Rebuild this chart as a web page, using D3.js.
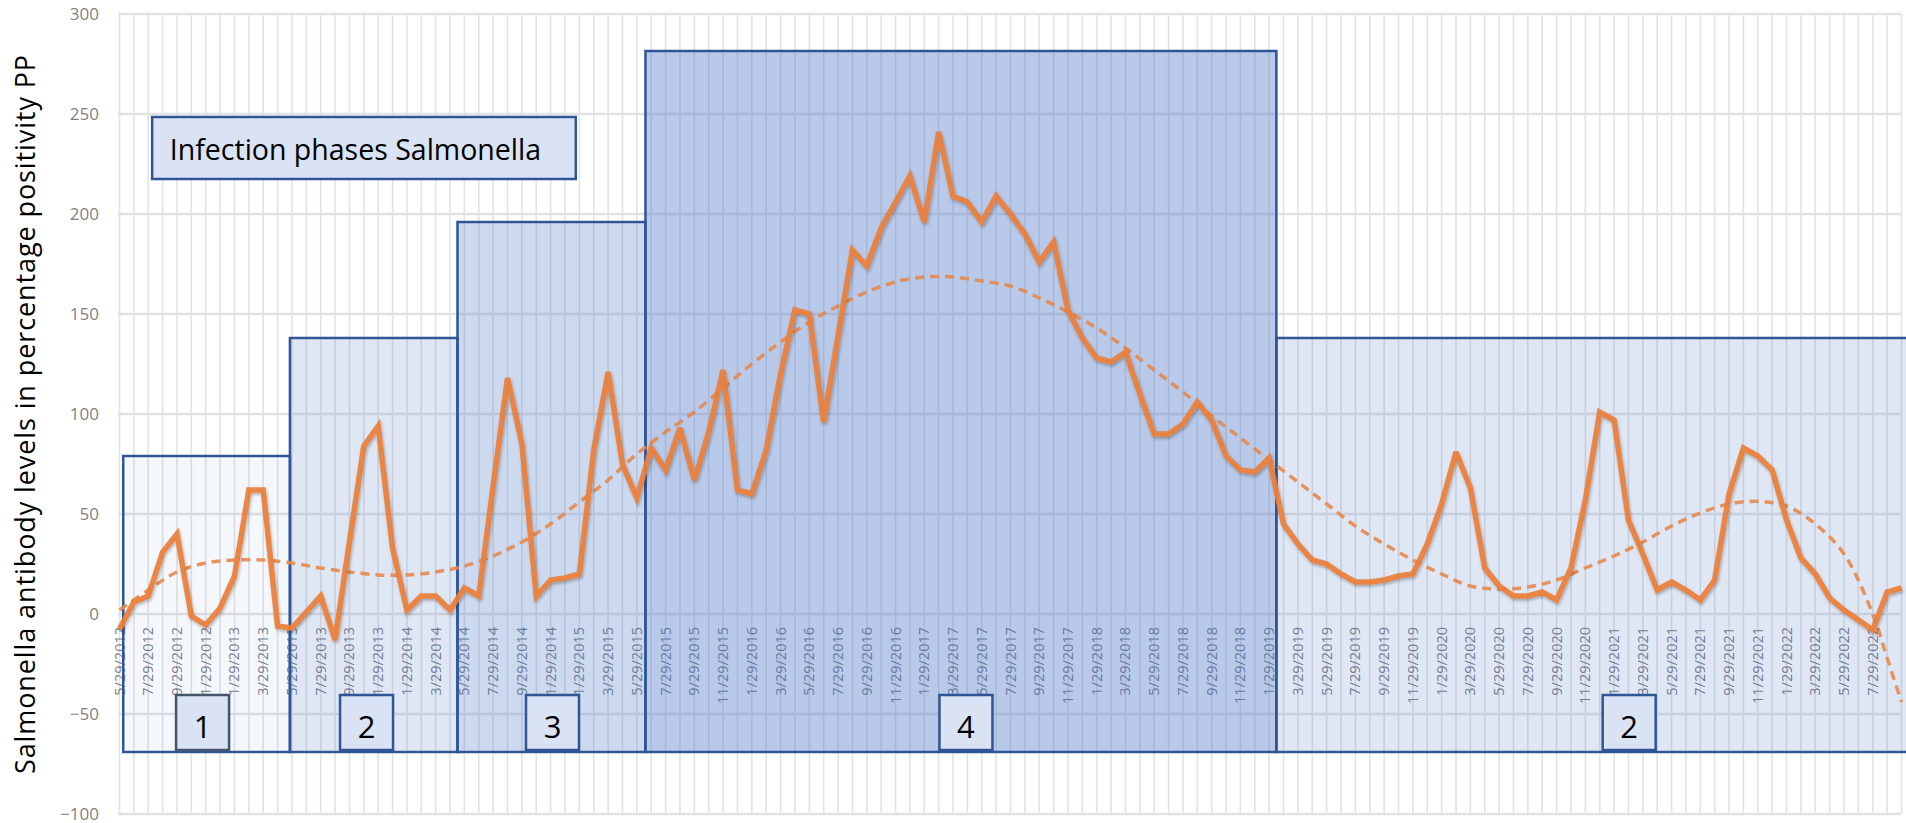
<!DOCTYPE html>
<html><head><meta charset="utf-8">
<script src="https://cdn.jsdelivr.net/npm/d3@7"></script>
<style>
html,body{margin:0;padding:0;background:#fff;}
svg{display:block;}
</style></head>
<body>
<svg id="chart" width="1906" height="823"></svg>
<script>
// ---- data ----
const values = [-7.5,6,9,31,40,-1,-5.5,3,19,62,62,-6,-7,1,9,-13,36,84,94,33,
  2,9,9,2,13,9,64,118,85,9,17,18,20,82,121,75,58,83,72,93,
  67,91,122,62,60,82,120,152,150,96,139,182,174,193,206,219,196,241,209,206,
  196,209,200,190,176,186,152,138,128,126,131,110,90,90,95,106,97,79,72,71,
  78,45,35,27,25,20,16,16,17,19,20,35,55,81,63,23,14,9,9,11,
  7,23,57,101,97,47,30,12,16,12,7,17,60,83,79,72,47,28,20,8,
  2,-3,-8,11,13];
const tickLabels = ["5/29/2012","7/29/2012","9/29/2012","11/29/2012","1/29/2013","3/29/2013","5/29/2013","7/29/2013","9/29/2013","11/29/2013",
  "1/29/2014","3/29/2014","5/29/2014","7/29/2014","9/29/2014","11/29/2014","1/29/2015","3/29/2015","5/29/2015","7/29/2015",
  "9/29/2015","11/29/2015","1/29/2016","3/29/2016","5/29/2016","7/29/2016","9/29/2016","11/29/2016","1/29/2017","3/29/2017",
  "5/29/2017","7/29/2017","9/29/2017","11/29/2017","1/29/2018","3/29/2018","5/29/2018","7/29/2018","9/29/2018","11/29/2018",
  "1/29/2019","3/29/2019","5/29/2019","7/29/2019","9/29/2019","11/29/2019","1/29/2020","3/29/2020","5/29/2020","7/29/2020",
  "9/29/2020","11/29/2020","1/29/2021","3/29/2021","5/29/2021","7/29/2021","9/29/2021","11/29/2021","1/29/2022","3/29/2022",
  "5/29/2022","7/29/2022"];
const trendCat = [0,2,4,6,8,10,12,14,16,18,20,22,24,26,28,30,32,34,36,38,40,42,44,46,48,50,52,54,56,58,60,
  62,64,66,68,70,72,74,76,78,80,82,84,86,88,90,92,94,96,98,100,102,104,106,108,110,112,114,116,118,120,122,123,124];
const trendVal = [2,12,21,25.5,27,27,25.5,23,21,19.5,19.5,21,24,29,36,45,56,67,80,91,101,113,125,136,146,154,161,166,168.5,168.5,166.5,
  164,158,151,143,133,122,111,99,88,77,66,55,44,35,27,20,14,12.5,13.5,17,23,29,36,44,50.5,55,56.3,54,45,30,0,-22,-44];
const yTicks = [-100,-50,0,50,100,150,200,250,300];
const phaseLabel = ["1","2","3","4","2"];
const phaseStart = [0.26,11.86,23.52,36.6,80.5];
const phaseEnd   = [11.86,23.52,36.6,80.5,126];
const phaseTop   = [79,138,196,281.5,138];
const phaseBottom = -69;
const phaseLabelCat = [5.78,17.19,30.13,58.9,105.05];
const phaseLabelTop = -40.5;
const titleText = "Infection phases Salmonella";
const yTitle = "Salmonella antibody levels in percentage positivity PP";
// ---- styles ----
const phaseAlpha = [0.06,0.17,0.27,0.38,0.17];
const phaseLabelStroke = ["#44546a","#2f5597","#2f5597","#2f5597","#2f5597"];

const svg = d3.select("#chart");
const x = d3.scaleLinear().domain([0, values.length-1]).range([119.5, 1901.5]);
const y = d3.scaleLinear().domain([-100, 300]).range([814, 14]);

const defs = svg.append("defs");
const f = defs.append("filter").attr("id","sh").attr("x","-5%").attr("y","-5%").attr("width","110%").attr("height","115%");
f.append("feDropShadow").attr("dx",1).attr("dy",2).attr("stdDeviation",1.6).attr("flood-color","#000").attr("flood-opacity",0.3);

// gridlines
const grid = svg.append("g");
grid.selectAll("line.v").data(d3.range(values.length)).join("line")
  .attr("x1", d=>x(d)).attr("x2", d=>x(d)).attr("y1", y(300)).attr("y2", y(-100))
  .attr("stroke","#e3e3e3").attr("stroke-width",1.6);
grid.selectAll("line.h").data(yTicks).join("line")
  .attr("x1", 118).attr("x2", 1901).attr("y1", d=>y(d)).attr("y2", d=>y(d))
  .attr("stroke","#e2e2e2").attr("stroke-width",2.5);

// x tick labels (every 2nd category)
const xl = svg.append("g");
xl.selectAll("text").data(tickLabels).join("text")
  .attr("transform",(d,i)=>`translate(${x(i*2)+5},${y(-6.5)}) rotate(-90)`)
  .attr("text-anchor","end")
  .attr("font-family","'Open Sans', sans-serif").attr("font-size",14.5)
  .attr("fill","#6b7079").attr("fill-opacity",0.9)
  .text(d=>d);

// phase rectangles
const ph = svg.append("g");
ph.selectAll("rect").data(phaseLabel).join("rect")
  .attr("x",(d,i)=>x(phaseStart[i])).attr("y",(d,i)=>y(phaseTop[i]))
  .attr("width",(d,i)=>x(phaseEnd[i])-x(phaseStart[i]))
  .attr("height",(d,i)=>y(phaseBottom)-y(phaseTop[i]))
  .attr("fill","#4472c4").attr("fill-opacity",(d,i)=>phaseAlpha[i])
  .attr("stroke","#2f5597").attr("stroke-width",2.5);

// trend (dashed)
const trendLine = d3.line().x(d=>x(d[0])).y(d=>y(d[1])).curve(d3.curveCatmullRom.alpha(0.5));
svg.append("path").datum(trendCat.map((c,i)=>[c,trendVal[i]]))
  .attr("d",trendLine).attr("fill","none")
  .attr("stroke","#e5884d").attr("stroke-width",3.5).attr("stroke-dasharray","9,6")
  .attr("stroke-opacity",0.9);

// main line
const line = d3.line().x((d,i)=>x(i)).y(d=>y(d));
svg.append("path").datum(values).attr("d",line).attr("fill","none")
  .attr("stroke","#ec7f3a").attr("stroke-width",5.5).attr("stroke-linejoin","miter").attr("stroke-miterlimit",3)
  .attr("stroke-opacity",0.92).attr("filter","url(#sh)");

// phase label boxes
const lb = svg.append("g");
phaseLabel.forEach((t,i)=>{
  const cx = x(phaseLabelCat[i]);
  lb.append("rect").attr("x",cx-26.5).attr("y",y(phaseLabelTop)).attr("width",53)
    .attr("height",y(phaseBottom+1)-y(phaseLabelTop))
    .attr("fill","#dae3f3").attr("stroke",phaseLabelStroke[i]).attr("stroke-width",2.5);
  lb.append("text").attr("x",cx).attr("y",y(-62)).attr("text-anchor","middle")
    .attr("font-family","'Open Sans', sans-serif").attr("font-size",31).attr("fill","#000").text(t);
});

// title box
svg.append("rect").attr("x",x(2.27)).attr("y",y(248.5)).attr("width",x(31.75)-x(2.27)).attr("height",y(217.5)-y(248.5))
  .attr("fill","#dae3f3").attr("stroke","#2f5597").attr("stroke-width",2.5);
svg.append("text").attr("x",x(3.5)).attr("y",y(227)).attr("font-family","'Open Sans', sans-serif")
  .attr("font-size",28.5).attr("fill","#000").text(titleText);

// y axis
const ya = svg.append("g").attr("transform","translate(99,0)")
  .call(d3.axisLeft(y).tickValues(yTicks).tickSize(0).tickPadding(0));
ya.select(".domain").remove();
ya.selectAll("text").attr("font-family","'Open Sans', sans-serif").attr("font-size",17).attr("fill","#7f7f7f");

// y title
svg.append("text").attr("transform",`translate(35,${(y(300)+y(-100))/2}) rotate(-90)`)
  .attr("text-anchor","middle").attr("font-family","'Open Sans', sans-serif").attr("font-size",27)
  .attr("letter-spacing",0.9).attr("fill","#000")
  .text(yTitle);
</script>
</body></html>
